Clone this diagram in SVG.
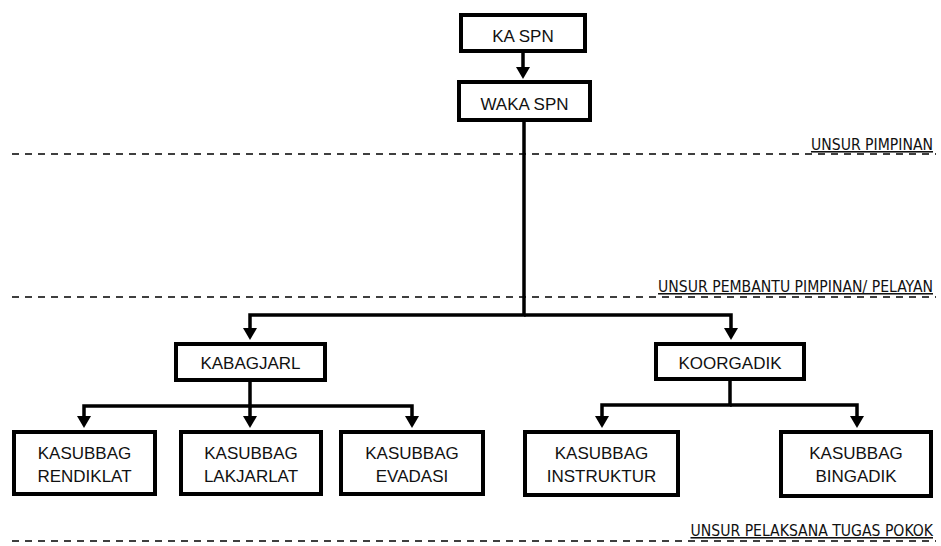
<svg xmlns="http://www.w3.org/2000/svg" width="941" height="546" viewBox="0 0 941 546">
<defs>
<marker id="arr" viewBox="0 0 12 14" refX="4" refY="7" markerWidth="12" markerHeight="14" markerUnits="userSpaceOnUse" orient="auto">
<path d="M0,0 L12,7 L0,14 z" fill="#000"/>
</marker>
<style>
.box{fill:#fff;stroke:#000;stroke-width:4}
.lbl{font-family:"Liberation Sans",Arial,sans-serif;font-size:17px;fill:#111;text-anchor:middle}
.con{fill:none;stroke:#000;stroke-width:3.5;stroke-linejoin:miter;marker-end:url(#arr)}
.dash{stroke:#000;stroke-width:1.6;stroke-dasharray:7 6}
.sec{font-family:"Liberation Sans Narrow","DejaVu Sans Condensed","DejaVu Sans",sans-serif;font-stretch:condensed;font-size:15.6px;fill:#111;text-decoration:underline;text-anchor:end}
</style>
</defs>
<rect width="941" height="546" fill="#fff"/>

<g id="levels">
<line class="dash" x1="12" y1="154" x2="936" y2="154"/>
<text class="sec" x="933" y="150">UNSUR PIMPINAN</text>
<line class="dash" x1="12" y1="297" x2="936" y2="297"/>
<text class="sec" x="933" y="292">UNSUR PEMBANTU PIMPINAN/ PELAYAN</text>
<line class="dash" x1="12" y1="541" x2="936" y2="541"/>
<text class="sec" x="933" y="536">UNSUR PELAKSANA TUGAS POKOK</text>
</g>

<g id="connectors">
<path class="con" d="M523,53 V71"/>
<path class="con" d="M524,122 V315 H250 V332"/>
<path class="con" d="M524,315 H731 V332"/>
<path class="con" d="M250,382 V406 H84 V420"/>
<path class="con" d="M250,406 V420"/>
<path class="con" d="M250,406 H412 V420"/>
<path class="con" d="M730,381 V405 H602 V420"/>
<path class="con" d="M730,405 H857 V420"/>
</g>

<g id="ka-spn">
<rect class="box" x="461" y="15" width="124" height="36"/>
<text class="lbl" x="523" y="42">KA SPN</text>
</g>
<g id="waka-spn">
<rect class="box" x="459" y="82" width="131" height="38"/>
<text class="lbl" x="524.5" y="110">WAKA SPN</text>
</g>
<g id="kabagjarl">
<rect class="box" x="176" y="344" width="149" height="36"/>
<text class="lbl" x="250.5" y="369">KABAGJARL</text>
</g>
<g id="koorgadik">
<rect class="box" x="656" y="344" width="148" height="35"/>
<text class="lbl" x="730" y="368.5">KOORGADIK</text>
</g>
<g id="rendiklat">
<rect class="box" x="14" y="432" width="141" height="62"/>
<text class="lbl" x="84.5" y="459">KASUBBAG</text>
<text class="lbl" x="84.5" y="482">RENDIKLAT</text>
</g>
<g id="lakjarlat">
<rect class="box" x="181" y="432" width="140" height="62"/>
<text class="lbl" x="251" y="459">KASUBBAG</text>
<text class="lbl" x="251" y="482">LAKJARLAT</text>
</g>
<g id="evadasi">
<rect class="box" x="341" y="432" width="142" height="62"/>
<text class="lbl" x="412" y="459">KASUBBAG</text>
<text class="lbl" x="412" y="482">EVADASI</text>
</g>
<g id="instruktur">
<rect class="box" x="525" y="432" width="153" height="63"/>
<text class="lbl" x="601.5" y="459">KASUBBAG</text>
<text class="lbl" x="601.5" y="482">INSTRUKTUR</text>
</g>
<g id="bingadik">
<rect class="box" x="781" y="432" width="150" height="64"/>
<text class="lbl" x="856" y="459">KASUBBAG</text>
<text class="lbl" x="856" y="482">BINGADIK</text>
</g>
</svg>
